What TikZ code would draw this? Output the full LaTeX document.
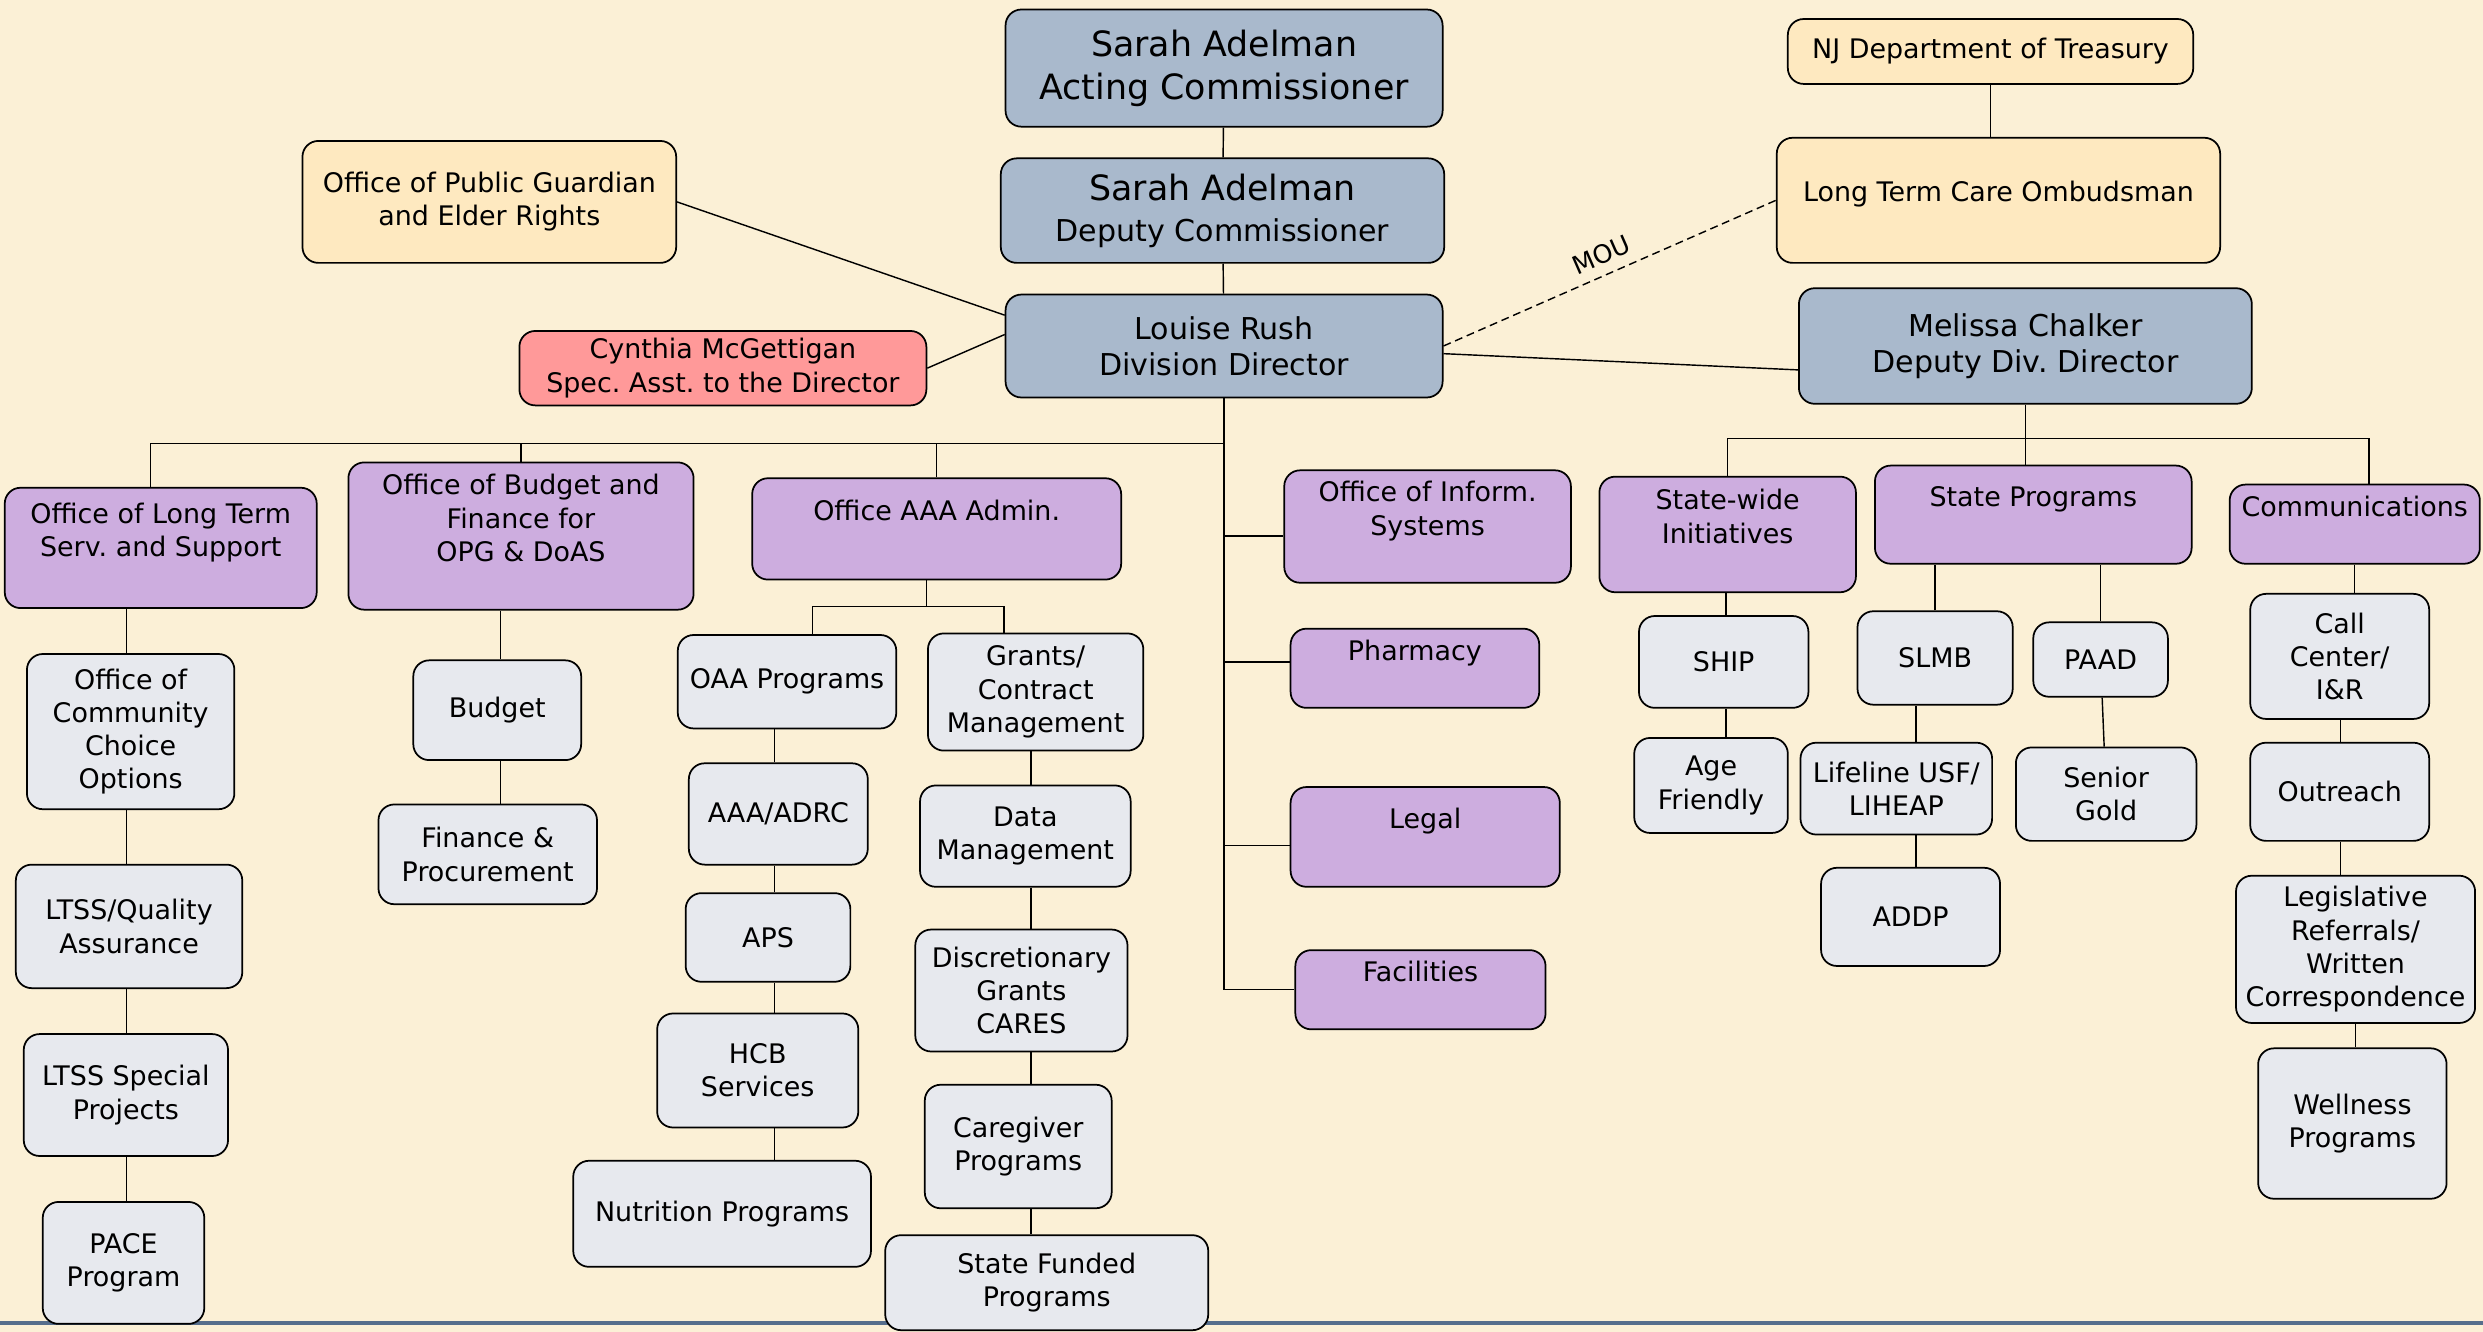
\documentclass[tikz,border=0pt]{standalone}
\usepackage{fontspec}
\setmainfont{DejaVu Sans}
\usepackage{tikz}
\usetikzlibrary{calc}
\usepackage{xcolor}
\definecolor{Parchment}{RGB}{251,240,214}
\definecolor{LeadBlue}{RGB}{169,185,204}
\definecolor{OfficeViolet}{RGB}{205,173,223}
\definecolor{UnitGray}{RGB}{231,233,238}
\definecolor{OutsideTan}{RGB}{254,233,192}
\definecolor{AideRose}{RGB}{255,153,153}
\definecolor{RuleBlue}{RGB}{86,110,140}
\frenchspacing

\begin{document}
\begin{tikzpicture}[
  x=1pt,y=-1pt,
  box/.style={draw=black,line width=1.1pt,rounded corners=10pt,align=center,
              inner sep=2pt,font=\fontsize{17}{21}\selectfont},
  lead/.style={box,fill=LeadBlue,font=\fontsize{19}{23}\selectfont},
  office/.style={box,fill=OfficeViolet,text depth=23pt},
  unit/.style={box,fill=UnitGray},
  outside/.style={box,fill=OutsideTan},
  aide/.style={box,fill=AideRose},
  link/.style={line width=0.9pt},
]
\fill[Parchment] (0,0) rectangle (1568,841);
\useasboundingbox (0,0) rectangle (1568,841);
\draw[RuleBlue,line width=2pt] (0,835.5) -- (1568,835.5);

% front office
\node[lead,minimum width=276pt,minimum height=74pt,font=\fontsize{22}{27}\selectfont] (acting) at (773,43) {Sarah Adelman\\Acting Commissioner};
\node[lead,minimum width=280pt,minimum height=66pt,font=\fontsize{19}{26}\selectfont] (deputy) at (772,133) {{\fontsize{22}{26}\selectfont Sarah Adelman}\\Deputy Commissioner};
\node[lead,minimum width=276pt,minimum height=65pt] (director) at (773,218.5) {Louise Rush\\Division Director};
\node[lead,minimum width=286pt,minimum height=73pt] (chalker) at (1279,218.5) {Melissa Chalker\\Deputy Div. Director};
\node[outside,minimum width=236pt,minimum height=77pt] (guardian) at (309,127.5) {Office of Public Guardian\\and Elder Rights};
\node[aide,minimum width=257pt,minimum height=47pt] (aide) at (456.5,232.5) {Cynthia McGettigan\\Spec. Asst. to the Director};
\node[outside,minimum width=256pt,minimum height=41pt] (treasury) at (1257,32.5) {NJ Department of Treasury};
\node[outside,minimum width=280pt,minimum height=79pt,text depth=12pt] (ombudsman) at (1262,126.5) {Long Term Care Ombudsman};

% offices under the director
\node[office,minimum width=197pt,minimum height=76pt] (ltss) at (101.5,346) {Office of Long Term\\Serv. and Support};
\node[office,minimum width=218pt,minimum height=93pt] (finoffice) at (329,338.5) {Office of Budget and\\Finance for\\OPG \& DoAS};
\node[office,minimum width=233pt,minimum height=64pt] (aaaadmin) at (591.5,334) {Office AAA Admin.};
\node[office,minimum width=181pt,minimum height=71pt] (infosys) at (901.5,332.5) {Office of Inform.\\Systems};
\node[office,minimum width=157pt,minimum height=50pt] (pharmacy) at (893.5,422) {Pharmacy};
\node[office,minimum width=170pt,minimum height=63pt] (legal) at (900,528.5) {Legal};
\node[office,minimum width=158pt,minimum height=50pt] (facilities) at (897,625) {Facilities};

% offices under the deputy director
\node[office,minimum width=162pt,minimum height=73pt] (statewide) at (1091,337.5) {State-wide\\Initiatives};
\node[office,minimum width=200pt,minimum height=62pt] (stateprog) at (1284,325) {State Programs};
\node[office,minimum width=158pt,minimum height=50pt] (comms) at (1487,331) {Communications};

% units
\node[unit,minimum width=131pt,minimum height=98pt] (occo) at (82.5,462) {Office of\\Community\\Choice\\Options};
\node[unit,minimum width=143pt,minimum height=78pt] (quality) at (81.5,585) {LTSS/Quality\\Assurance};
\node[unit,minimum width=129pt,minimum height=77pt] (special) at (79.5,691.5) {LTSS Special\\Projects};
\node[unit,minimum width=102pt,minimum height=77pt] (pace) at (78,797.5) {PACE\\Program};
\node[unit,minimum width=106pt,minimum height=63pt] (budget) at (314,448.5) {Budget};
\node[unit,minimum width=138pt,minimum height=63pt] (procure) at (308,539.5) {Finance \&\\Procurement};
\node[unit,minimum width=138pt,minimum height=59pt] (oaa) at (497,430.5) {OAA Programs};
\node[unit,minimum width=113pt,minimum height=64pt] (adrc) at (491.5,514) {AAA/ADRC};
\node[unit,minimum width=104pt,minimum height=56pt] (aps) at (485,592) {APS};
\node[unit,minimum width=127pt,minimum height=72pt] (hcb) at (478.5,676) {HCB\\Services};
\node[unit,minimum width=188pt,minimum height=67pt] (nutrition) at (456,766.5) {Nutrition Programs};
\node[unit,minimum width=136pt,minimum height=74pt] (grants) at (654,437) {Grants/\\Contract\\Management};
\node[unit,minimum width=133pt,minimum height=64pt] (datamgmt) at (647.5,528) {Data\\Management};
\node[unit,minimum width=134pt,minimum height=77pt] (cares) at (645,625.5) {Discretionary\\Grants\\CARES};
\node[unit,minimum width=118pt,minimum height=78pt] (caregiver) at (643,724) {Caregiver\\Programs};
\node[unit,minimum width=204pt,minimum height=60pt] (statefund) at (661,810) {State Funded\\Programs};
\node[unit,minimum width=107pt,minimum height=58pt] (ship) at (1088.5,418) {SHIP};
\node[unit,minimum width=97pt,minimum height=60pt] (agefriendly) at (1080.5,496) {Age\\Friendly};
\node[unit,minimum width=98pt,minimum height=59pt] (slmb) at (1222,415.5) {SLMB};
\node[unit,minimum width=85pt,minimum height=47pt] (paad) at (1326.5,416.5) {PAAD};
\node[unit,minimum width=121pt,minimum height=58pt] (lifeline) at (1197.5,498) {Lifeline USF/\\LIHEAP};
\node[unit,minimum width=113pt,minimum height=62pt] (addp) at (1206.5,579) {ADDP};
\node[unit,minimum width=114pt,minimum height=59pt] (seniorgold) at (1330,501.5) {Senior\\Gold};
\node[unit,minimum width=113pt,minimum height=79pt] (callcenter) at (1477.5,414.5) {Call\\Center/\\I\&R};
\node[unit,minimum width=113pt,minimum height=62pt] (outreach) at (1477.5,500) {Outreach};
\node[unit,minimum width=151pt,minimum height=93pt] (legislative) at (1487.5,599.5) {Legislative\\Referrals/\\Written\\Correspondence};
\node[unit,minimum width=119pt,minimum height=95pt] (wellness) at (1485.5,709.5) {Wellness\\Programs};

% bus and column positions
\coordinate (leftbus) at (773,280);
\coordinate (aaabus) at (585,383);
\coordinate (rightbus) at (1280,277);
\coordinate (ltsscol) at (80,0);
\coordinate (fincol) at (316,0);
\coordinate (oaacol) at (489,0);
\coordinate (grantcol) at (651,0);
\coordinate (shipcol) at (1090,0);
\coordinate (slmbcol) at (1210,0);
\coordinate (callcol) at (1478,0);

% top of the chart
\draw[link] (acting) -- (deputy);
\draw[link] (deputy) -- (director);
\draw[link] (guardian.east) -- (director.172);
\draw[link] (aide.east) -- (director.177);
\draw[link] (treasury.south) -- (treasury.south |- ombudsman.north);
\draw[link,dash pattern=on 5pt off 3pt] (director.east) -- (ombudsman.west)
  node[midway,above=3pt,sloped,font=\fontsize{16}{18}\selectfont]{MOU};
\draw[link] (director.-2) -- (chalker.186);

% director side
\draw[link] (director.south) -- (director.south |- facilities.west);
\draw[link] ([xshift=-6.5pt]ltss.north) |- (director.south |- leftbus);
\draw[link] (finoffice.north) -- (finoffice.north |- leftbus);
\draw[link] (aaaadmin.north) -- (aaaadmin.north |- leftbus);
\draw[link] (director.south |- infosys.west) ++(0,6) -- ([yshift=-6pt]infosys.west);
\draw[link] (director.south |- pharmacy.west) ++(0,-4) -- ([yshift=4pt]pharmacy.west);
\draw[link] (director.south |- legal.west) ++(0,5.5) -- ([yshift=-5.5pt]legal.west);
\draw[link] (director.south |- facilities.west) -- (facilities.west);

\draw[link] (ltss.south -| ltsscol) -- (occo.north -| ltsscol);
\draw[link] (occo.south -| ltsscol) -- (quality.north -| ltsscol);
\draw[link] (quality.south -| ltsscol) -- (special.north -| ltsscol);
\draw[link] (special.south -| ltsscol) -- (pace.north -| ltsscol);
\draw[link] (finoffice.south -| fincol) -- (budget.north -| fincol);
\draw[link] (budget.south -| fincol) -- (procure.north -| fincol);

\draw[link] (aaaadmin.south -| aaabus) -- (aaabus);
\draw[link] ([xshift=16pt]oaa.north) |- (aaabus) -| ([xshift=-20pt]grants.north);
\draw[link] (oaa.south -| oaacol) -- (adrc.north -| oaacol);
\draw[link] (adrc.south -| oaacol) -- (aps.north -| oaacol);
\draw[link] (aps.south -| oaacol) -- (hcb.north -| oaacol);
\draw[link] (hcb.south -| oaacol) -- (nutrition.north -| oaacol);
\draw[link] (grants.south -| grantcol) -- (datamgmt.north -| grantcol);
\draw[link] (datamgmt.south -| grantcol) -- (cares.north -| grantcol);
\draw[link] (cares.south -| grantcol) -- (caregiver.north -| grantcol);
\draw[link] (caregiver.south -| grantcol) -- (statefund.north -| grantcol);

% deputy director side
\draw[link] (chalker.south) -- (chalker.south |- stateprog.north);
\draw[link] (statewide.north) |- (rightbus) -| ([xshift=9pt]comms.north);
\draw[link] (statewide.south -| shipcol) -- (ship.north -| shipcol);
\draw[link] (ship.south -| shipcol) -- (agefriendly.north -| shipcol);
\draw[link] (slmb.north) -- (slmb.north |- stateprog.south);
\draw[link] (paad.north) -- (paad.north |- stateprog.south);
\draw[link] (slmb.south -| slmbcol) -- (lifeline.north -| slmbcol);
\draw[link] (lifeline.south -| slmbcol) -- (addp.north -| slmbcol);
\draw[link] (paad) -- (seniorgold);
\draw[link] (comms.south) -- (comms.south |- callcenter.north);
\draw[link] (callcenter.south -| callcol) -- (outreach.north -| callcol);
\draw[link] (outreach.south -| callcol) -- (legislative.north -| callcol);
\draw[link] (legislative.south) -- (legislative.south |- wellness.north);
\end{tikzpicture}
\end{document}
